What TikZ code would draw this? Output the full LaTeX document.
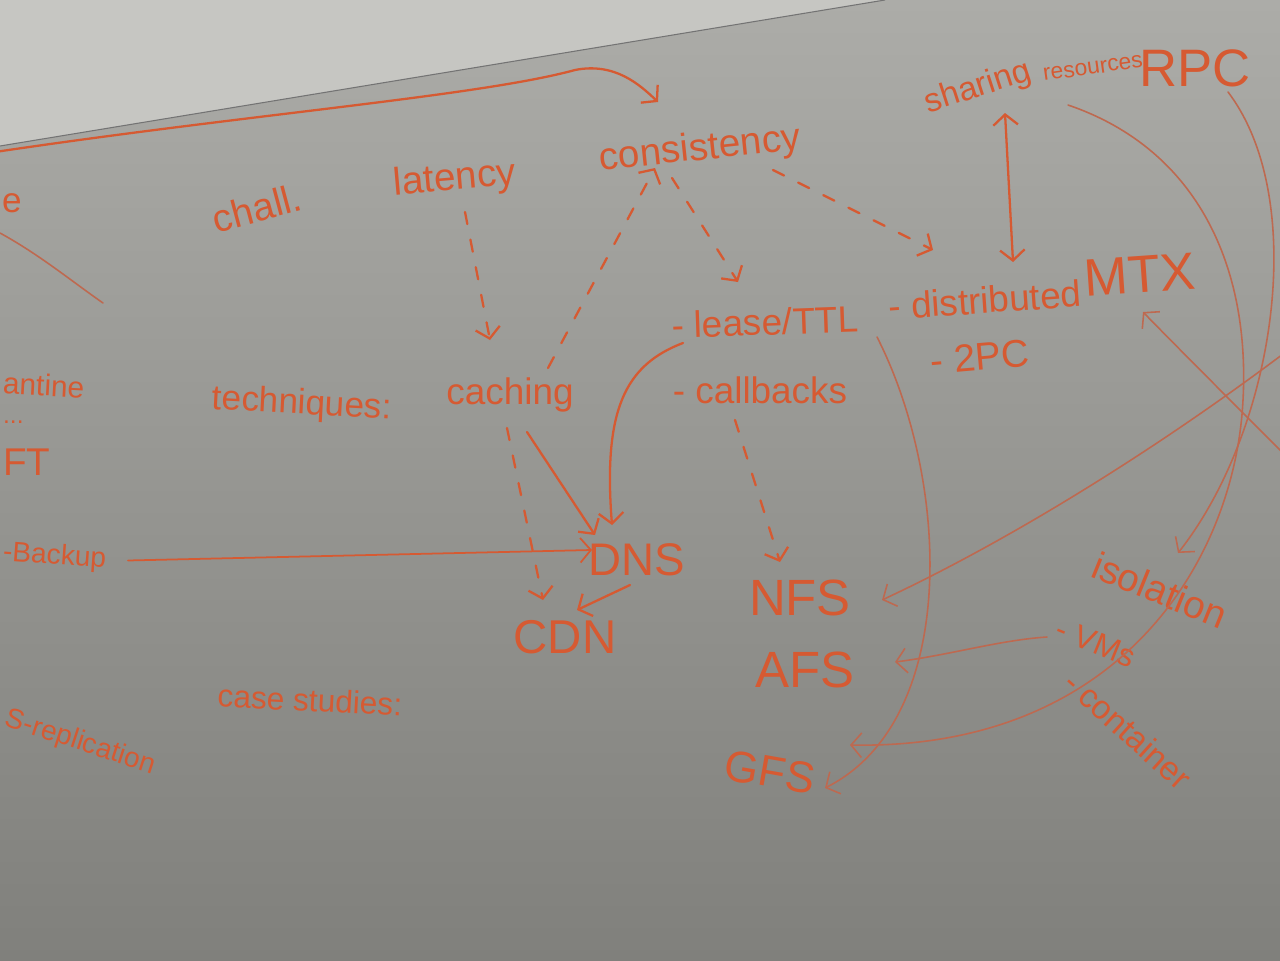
\documentclass[tikz,border=0pt]{standalone}
\usepackage{fontspec}
\setmainfont{Liberation Sans}
\usetikzlibrary{arrows.meta,calc}
\definecolor{ink}{RGB}{214,90,50}
\definecolor{boardtop}{RGB}{172,172,168}
\definecolor{boardbot}{RGB}{128,128,124}
\definecolor{wall}{RGB}{198,198,194}
\definecolor{faintink}{RGB}{190,105,80}
\newcommand\fsz[1]{\fontsize{#1}{#1}\selectfont}
\begin{document}
\begin{tikzpicture}[x=0.02cm,y=-0.02cm,
  lbl/.style={text=ink,inner sep=1pt},
  ln/.style={draw=ink,line width=1.3pt,line cap=round},
  fln/.style={draw=faintink,line width=0.9pt,line cap=round},
  dsh/.style={ln,dash pattern=on 7pt off 9pt},
  hd/.style={-{Straight Barb[length=6pt,width=14pt]}},
  hd2/.style={{Straight Barb[length=6pt,width=14pt]}-{Straight Barb[length=6pt,width=14pt]}}
]
\useasboundingbox (0,0) rectangle (1280,960);
\clip (0,0) rectangle (1280,960);
% board and wall
\shade[top color=boardtop,bottom color=boardbot] (0,0) rectangle (1280,960);
\fill[wall] (0,0) -- (885,0) -- (0,146) -- cycle;
\draw[black!55,line width=0.6pt] (0,146) -- (885,0);

% labels
\node[lbl,font=\fsz{22},rotate=15] (chall) at (257,208) {chall.};
\node[lbl,font=\fsz{22},rotate=5] (latency) at (455,180) {latency};
\node[lbl,font=\fsz{22},rotate=6] (consistency) at (700,150) {consistency};
\node[lbl,font=\fsz{19},rotate=18] (sharing) at (978,88) {sharing};
\node[lbl,font=\fsz{13},rotate=8] (resources) at (1093,68) {resources};
\node[lbl,font=\fsz{30}] (rpc) at (1195,68) {RPC};
\node[lbl,font=\fsz{20},rotate=-3] (techniques) at (302,405) {techniques:};
\node[lbl,font=\fsz{21}] (caching) at (510,395) {caching};
\node[lbl,font=\fsz{21},rotate=2] (lease) at (765,322) {- lease/TTL};
\node[lbl,font=\fsz{21},rotate=4] (dist) at (985,300) {- distributed};
\node[lbl,font=\fsz{30},rotate=4] (mtx) at (1140,275) {MTX};
\node[lbl,font=\fsz{22},rotate=5] (tpc) at (980,357) {- 2PC};
\node[lbl,font=\fsz{21}] (callbacks) at (760,390) {- callbacks};
\node[lbl,font=\fsz{26}] (dns) at (637,560) {DNS};
\node[lbl,font=\fsz{27}] (cdn) at (565,637) {CDN};
\node[lbl,font=\fsz{29}] (nfs) at (800,598) {NFS};
\node[lbl,font=\fsz{29}] (afs) at (805,670) {AFS};
\node[lbl,font=\fsz{25},rotate=-10] (gfs) at (770,772) {GFS};
\node[lbl,font=\fsz{18},rotate=-3] (case) at (310,700) {case studies:};
\node[lbl,font=\fsz{22},rotate=-22] (isolation) at (1160,590) {isolation};
\node[lbl,font=\fsz{18},rotate=-22] (vms) at (1096,643) {- VMs};
\node[lbl,font=\fsz{19},rotate=-42] (container) at (1128,730) {- container};
% texts at the left edge
\node[lbl,font=\fsz{20},anchor=west] (e) at (0,203) {e};
\node[lbl,font=\fsz{17},anchor=west,rotate=-3] (quar) at (1,383) {antine};
\node[lbl,font=\fsz{14},anchor=west] (dots) at (1,422) {...};
\node[lbl,font=\fsz{22},anchor=west] (ft) at (1,462) {FT};
\node[lbl,font=\fsz{16},anchor=west,rotate=-4] (backup) at (1,553) {-Backup};
\node[lbl,font=\fsz{16},anchor=west,rotate=-18] (repl) at (4,718) {S-replication};

% connectors
\coordinate (topstart) at (-5,152);
\draw[ln,hd] (topstart) .. controls (250,114) and (480,96) .. (575,70)
   .. controls (615,62) and (640,85) .. ([shift={(-42,-48)}]consistency.center);
\draw[dsh,hd] ([shift={(10,32)}]latency.center) -- ([shift={(-20,-55)}]caching.center);
\draw[dsh,hd] ([shift={(38,-27)}]caching.center) -- ([shift={(-45,18)}]consistency.center);
\draw[dsh,hd] ([shift={(-28,28)}]consistency.center) -- ([shift={(-27,-40)}]lease.center);
\draw[dsh,hd] ([shift={(73,20)}]consistency.center) -- ([shift={(-52,-50)}]dist.center);
\draw[ln,hd2] ([shift={(27,25)}]sharing.center) -- ([shift={(28,-38)}]dist.center);
\draw[ln,hd] ([shift={(17,37)}]caching.center) -- ([shift={(-42,-25)}]dns.center);
\draw[dsh,hd] ([shift={(-3,33)}]caching.center) -- ([shift={(-22,-37)}]cdn.center);
\draw[ln,hd] ([shift={(-82,21)}]lease.center) .. controls (625,365) and (603,410) .. ([shift={(-25,-35)}]dns.center);
\draw[ln,line width=1pt,hd] ([shift={(20,0)}]backup.east) -- ([shift={(-45,-10)}]dns.center);
\draw[ln,hd] ([shift={(-7,25)}]dns.center) -- ([shift={(12,-27)}]cdn.center);
\draw[dsh,hd] ([shift={(-25,30)}]callbacks.center) -- ([shift={(-20,-36)}]nfs.center);
\draw[fln,hd] ([shift={(112,15)}]lease.center) .. controls (950,480) and (960,720) .. ([shift={(55,16)}]gfs.center);
\draw[fln,hd] ([shift={(-25,37)}]resources.center) .. controls (1200,150) and (1250,270) .. (1243,400)
   .. controls (1235,560) and (1120,750) .. ([shift={(80,-27)}]gfs.center);
\draw[fln,hd] ([shift={(33,24)}]rpc.center) .. controls (1310,200) and (1275,430) .. ([shift={(18,-37)}]isolation.center);
\coordinate (rightA) at (1295,345);
\draw[fln,hd] (rightA) .. controls (1150,455) and (1000,545) .. ([shift={(82,2)}]nfs.center);
\coordinate (rightB) at (1295,465);
\draw[fln,hd] (rightB) .. controls (1240,410) and (1180,350) .. ([shift={(3,37)}]mtx.center);
\draw[fln,hd] ([shift={(-49,-6)}]vms.center) .. controls (1000,640) and (950,655) .. ([shift={(90,-8)}]afs.center);
\coordinate (leftA) at (0,233);
\draw[fln] (leftA) .. controls (40,255) and (70,280) .. (103,303);
\end{tikzpicture}
\end{document}
